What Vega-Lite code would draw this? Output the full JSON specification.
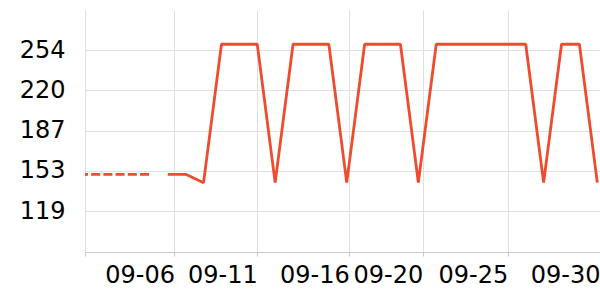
{
  "$schema": "https://vega.github.io/schema/vega-lite/v6.json",
  "autosize": "none",
  "width": 515,
  "height": 242,
  "padding": {"left": 85, "top": 10, "right": 0, "bottom": 48},
  "background": "white",
  "config": {
    "view": {"stroke": null},
    "axis": {"labelFont": "DejaVu Sans", "labelFontSize": 24, "labelColor": "#000000"}
  },
  "data": {
    "values": [
      {"date": "2024-09-01T09:00:00Z", "value": 150, "series": "dashed"},
      {"date": "2024-09-05T00:00:00Z", "value": 150, "series": "dashed"},
      {"date": "2024-09-06T00:00:00Z", "value": 150, "series": "solid"},
      {"date": "2024-09-07T00:00:00Z", "value": 150, "series": "solid"},
      {"date": "2024-09-08T00:00:00Z", "value": 143, "series": "solid"},
      {"date": "2024-09-09T00:00:00Z", "value": 259, "series": "solid"},
      {"date": "2024-09-10T00:00:00Z", "value": 259, "series": "solid"},
      {"date": "2024-09-11T00:00:00Z", "value": 259, "series": "solid"},
      {"date": "2024-09-12T00:00:00Z", "value": 143, "series": "solid"},
      {"date": "2024-09-13T00:00:00Z", "value": 259, "series": "solid"},
      {"date": "2024-09-14T00:00:00Z", "value": 259, "series": "solid"},
      {"date": "2024-09-15T00:00:00Z", "value": 259, "series": "solid"},
      {"date": "2024-09-16T00:00:00Z", "value": 143, "series": "solid"},
      {"date": "2024-09-17T00:00:00Z", "value": 259, "series": "solid"},
      {"date": "2024-09-18T00:00:00Z", "value": 259, "series": "solid"},
      {"date": "2024-09-19T00:00:00Z", "value": 259, "series": "solid"},
      {"date": "2024-09-20T00:00:00Z", "value": 143, "series": "solid"},
      {"date": "2024-09-21T00:00:00Z", "value": 259, "series": "solid"},
      {"date": "2024-09-22T00:00:00Z", "value": 259, "series": "solid"},
      {"date": "2024-09-23T00:00:00Z", "value": 259, "series": "solid"},
      {"date": "2024-09-24T00:00:00Z", "value": 259, "series": "solid"},
      {"date": "2024-09-25T00:00:00Z", "value": 259, "series": "solid"},
      {"date": "2024-09-26T00:00:00Z", "value": 259, "series": "solid"},
      {"date": "2024-09-27T00:00:00Z", "value": 143, "series": "solid"},
      {"date": "2024-09-28T00:00:00Z", "value": 259, "series": "solid"},
      {"date": "2024-09-29T00:00:00Z", "value": 259, "series": "solid"},
      {"date": "2024-09-30T00:00:00Z", "value": 143, "series": "solid"}
    ]
  },
  "encoding": {
    "x": {
      "field": "date",
      "type": "temporal",
      "scale": {
        "type": "utc",
        "domain": [
          {"year": 2024, "month": 9, "date": 1, "hours": 9, "utc": true},
          {"year": 2024, "month": 9, "date": 30, "hours": 3, "minutes": 36, "utc": true}
        ]
      },
      "axis": {
        "title": null,
        "values": [
          {"year": 2024, "month": 9, "date": 1, "hours": 9, "utc": true},
          {"year": 2024, "month": 9, "date": 6, "hours": 9, "utc": true},
          {"year": 2024, "month": 9, "date": 11, "utc": true},
          {"year": 2024, "month": 9, "date": 16, "hours": 3, "minutes": 20, "utc": true},
          {"year": 2024, "month": 9, "date": 20, "hours": 5, "minutes": 50, "utc": true},
          {"year": 2024, "month": 9, "date": 25, "utc": true},
          {"year": 2024, "month": 9, "date": 30, "hours": 3, "minutes": 36, "utc": true}
        ],
        "labelExpr": "utcFormat(datum.value, '%m-%d') == '09-01' ? '' : utcFormat(datum.value, '%m-%d')",
        "labelAlign": "right",
        "labelOverlap": false,
        "labelFlush": false,
        "labelBound": false,
        "labelPadding": 7,
        "grid": true,
        "gridColor": "#e0e0e0",
        "gridWidth": 1,
        "domain": true,
        "domainColor": "#c8c8c8",
        "domainWidth": 1,
        "ticks": true,
        "tickColor": "#c8c8c8",
        "tickSize": 4
      }
    },
    "y": {
      "field": "value",
      "type": "quantitative",
      "scale": {"domain": [84.9, 287.7], "nice": false, "zero": false},
      "axis": {
        "title": null,
        "values": [119.06, 152.79, 186.52, 220.25, 253.98],
        "format": ".0f",
        "grid": true,
        "gridColor": "#e0e0e0",
        "domain": false,
        "ticks": false,
        "labelPadding": 20
      }
    }
  },
  "layer": [
    {
      "transform": [{"filter": "datum.series == 'dashed'"}],
      "mark": {"type": "line", "color": "#ee4b2f", "strokeWidth": 2.8, "strokeDash": [9, 3.2], "strokeDashOffset": 6, "clip": true}
    },
    {
      "transform": [{"filter": "datum.series == 'solid'"}],
      "mark": {"type": "line", "color": "#ee4b2f", "strokeWidth": 2.8, "strokeJoin": "bevel", "clip": true}
    }
  ]
}
